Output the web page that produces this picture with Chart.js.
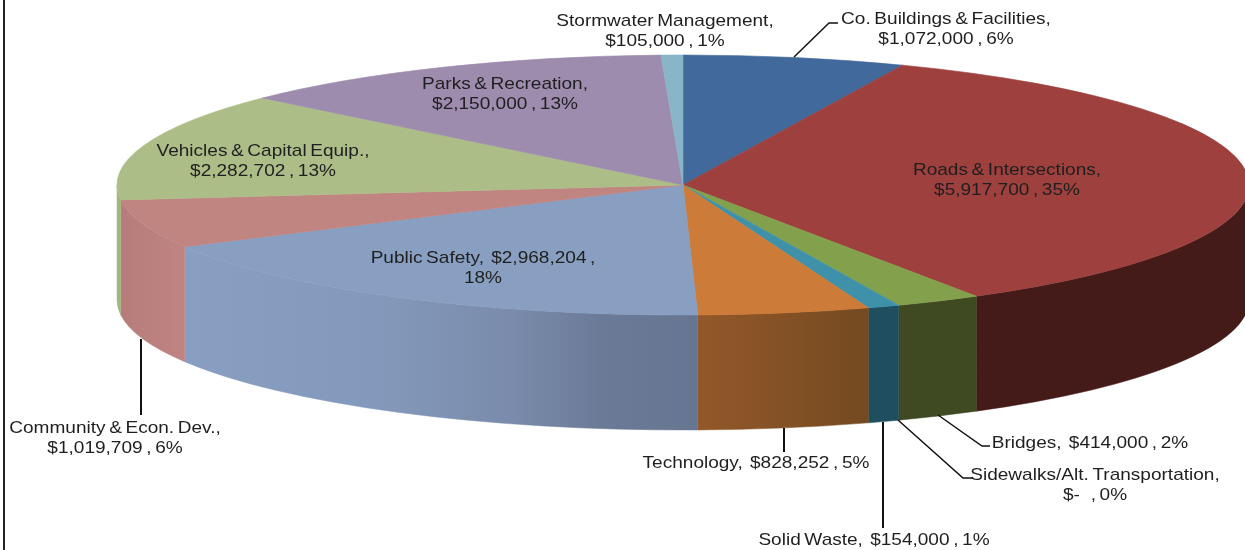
<!DOCTYPE html>
<html>
<head>
<meta charset="utf-8">
<title>Capital budget by category</title>
<script src="https://cdn.jsdelivr.net/npm/chart.js@4"></script>
<style>
  html, body { margin:0; padding:0; background:#fff; }
  #chart { display:block; }
</style>
</head>
<body>
<canvas id="chart" width="1245" height="550"></canvas>
<script>
// values, clockwise from 12 o'clock
const categories = [
  'Co. Buildings & Facilities', 'Roads & Intersections', 'Bridges',
  'Sidewalks/Alt. Transportation', 'Solid Waste', 'Technology', 'Public Safety',
  'Community & Econ. Dev.', 'Vehicles & Capital Equip.', 'Parks & Recreation',
  'Stormwater Management',
];
const budget = [1072000, 5917700, 414000, 0, 154000, 828252, 2968204, 1019709, 2282702, 2150000, 105000];
const sliceLabels = [
  ['Co. Buildings & Facilities,', '$1,072,000 , 6%'],
  ['Roads & Intersections,', '$5,917,700 , 35%'],
  ['Bridges,  $414,000 , 2%'],
  ['Sidewalks/Alt. Transportation,', '$-   , 0%'],
  ['Solid Waste,  $154,000 , 1%'],
  ['Technology,  $828,252 , 5%'],
  ['Public Safety,  $2,968,204 ,', '18%'],
  ['Community & Econ. Dev.,', '$1,019,709 , 6%'],
  ['Vehicles & Capital Equip.,', '$2,282,702 , 13%'],
  ['Parks & Recreation,', '$2,150,000 , 13%'],
  ['Stormwater Management,', '$105,000 , 1%'],
];

// ─── look ───────────────────────────────────
const topColors = ['#41699b','#9d403e','#83a04c','#3e91a9','#3e91a9','#cc7b38','#889fc2','#c08481','#adbd88','#9e8cae','#88b6c8'];
const wallColors = [ // [position, colour] along the visible rim, left to right
  [[0,'#2a4466']], [[0,'#441b18']], [[0,'#3f4a23']], [[0,'#1f4e5f']], [[0,'#1f4e5f']],
  [[0,'#93582a'],[1,'#744a20']],
  [[0,'#889fc2'],[0.38,'#8399bb'],[0.64,'#7a8bab'],[0.81,'#6b7a97'],[1,'#667590']],
  [[0,'#b57d7a'],[1,'#c08481']],
  [[0,'#a3b47f']], [[0,'#6f6280']], [[0,'#5f8090']],
];
const labelSpots = [ // text centre x, first line y, leader points
  { x:946,  y:19,  leader:[[794,57],[829,23],[838,23]] },
  { x:1007, y:170 },
  { x:1090, y:443, leader:[[938,415],[982,446],[990,446]] },
  { x:1095, y:475, leader:[[898,420],[963,478],[973,478]] },
  { x:874,  y:540, leader:[[883,422],[883,528]] },
  { x:756,  y:463, leader:[[784,428],[784,452]] },
  { x:483,  y:258 },
  { x:115,  y:428, leader:[[141,339],[141,415]] },
  { x:263,  y:151 },
  { x:505,  y:84 },
  { x:665,  y:21 },
];
const PIE = { cx:683, cy:185, rx:566, ry:130, depth:115 };

// draws the pie lying flat: side wall first, then squashes the arcs
const tiltPlugin = {
  id:'tilt',
  beforeDatasetsDraw(chart) {
    const ctx = chart.ctx;
    const arcs = chart.getDatasetMeta(0).data;
    arcs.forEach((arc, i) => {
      // only the front half of the rim can be seen
      const a = Math.max(arc.startAngle, 0), b = Math.min(arc.endAngle, Math.PI);
      if (b <= a) return;
      const x0 = PIE.cx + PIE.rx*Math.cos(b), x1 = PIE.cx + PIE.rx*Math.cos(a);
      const grad = ctx.createLinearGradient(x0, 0, x1, 0);
      wallColors[i].forEach(s => grad.addColorStop(s[0], s[1]));
      ctx.save();
      ctx.beginPath();
      ctx.ellipse(PIE.cx, PIE.cy, PIE.rx, PIE.ry, 0, a, b);
      ctx.ellipse(PIE.cx, PIE.cy+PIE.depth, PIE.rx, PIE.ry, 0, b, a, true);
      ctx.closePath();
      ctx.fillStyle = grad;
      ctx.strokeStyle = grad;
      ctx.lineWidth = 0.5;
      ctx.fill();
      ctx.stroke();
      ctx.restore();
    });
    ctx.save();
    ctx.translate(PIE.cx, PIE.cy);
    ctx.scale(1, PIE.ry/PIE.rx);
    ctx.translate(-arcs[0].x, -arcs[0].y);
  },
  afterDatasetsDraw(chart) {
    const ctx = chart.ctx;
    ctx.restore();
    ctx.save();
    // frame left by the source slide
    ctx.fillStyle = '#222';
    ctx.fillRect(3, 0, 2, 550);
    ctx.strokeStyle = '#111';
    labelSpots.forEach((spot, i) => {
      if (spot.leader) {
        ctx.lineWidth = spot.leader.length == 2 ? 2 : 1.5;
        ctx.beginPath();
        spot.leader.forEach((p, k) => k ? ctx.lineTo(p[0], p[1]) : ctx.moveTo(p[0], p[1]));
        ctx.stroke();
      }
      sliceLabels[i].forEach((line, k) => {
        // source text is a stretched screenshot, so widen the glyphs a bit
        ctx.save();
        ctx.translate(spot.x, spot.y + k*20);
        ctx.scale(1.12, 1);
        ctx.font = '17px "Liberation Sans", Arial, sans-serif';
        ctx.wordSpacing = '-1.5px';
        ctx.textAlign = 'center';
        ctx.textBaseline = 'middle';
        ctx.fillStyle = '#1f1f1f';
        ctx.fillText(line, 0, 0);
        ctx.restore();
      });
    });
    ctx.restore();
  },
};

new Chart(document.getElementById('chart'), {
  type:'pie',
  data:{ labels:categories, datasets:[{
    data:budget, backgroundColor:topColors, borderColor:topColors, borderWidth:1, clip:false,
  }]},
  options:{
    responsive:false, animation:false,
    radius:PIE.rx,
    layout:{ padding:{ left:121, top:0, right:0, bottom:180 } },
    plugins:{ legend:{display:false}, tooltip:{enabled:false} },
  },
  plugins:[tiltPlugin],
});
</script>
</body>
</html>
